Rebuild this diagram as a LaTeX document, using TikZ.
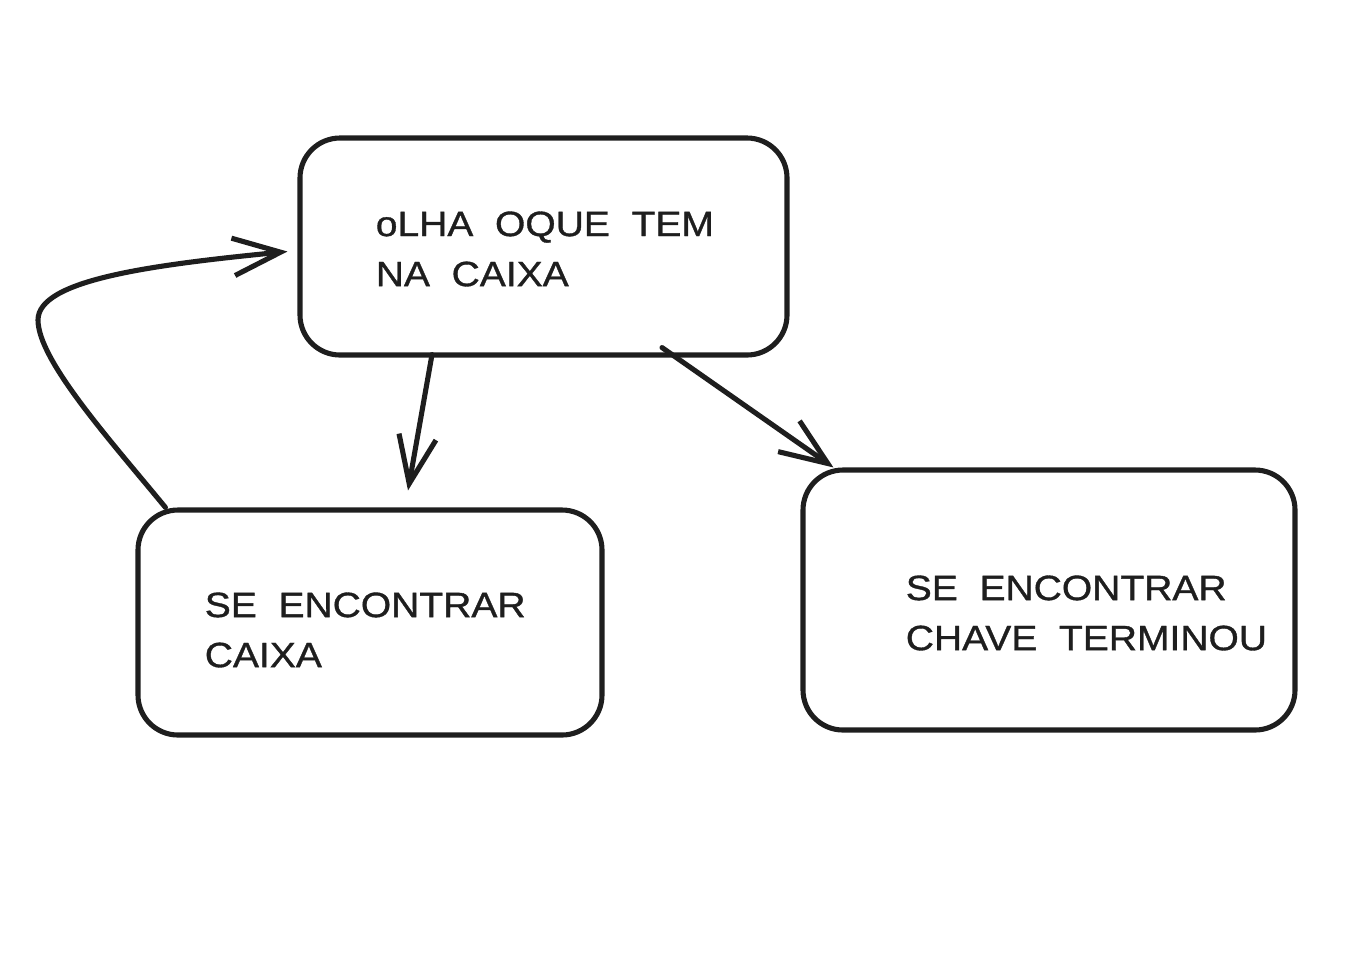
\documentclass[tikz,border=0pt]{standalone}
\usepackage{fontspec}
\newfontfamily\handfont[FakeStretch=1.11,WordSpace=2,FakeBold=1]{Liberation Sans}
\usetikzlibrary{arrows.meta}
\definecolor{inkblack}{HTML}{1E1E1E}
\begin{document}
\begin{tikzpicture}[
	statebox/.style={
		rectangle,
		rounded corners=0.8cm,
		draw=inkblack,
		line width=2.9pt
	},
	boxtext/.style={
		anchor=west,
		align=left,
		inner sep=0pt,
		text=inkblack,
		font=\handfont\fontsize{20}{28.5}\selectfont
	},
	flowarrow/.style={
		draw=inkblack,
		line width=2.9pt,
		line cap=round,
		-{Straight Barb[length=0.95cm,width=0.75cm]}
	}
]

\useasboundingbox (0,0) rectangle (27,-19.24);



% the three boxes
\node[statebox, minimum width=9.74cm, minimum height=4.34cm] (look) at (10.87,-4.93) {};
\node[statebox, minimum width=9.28cm, minimum height=4.5cm] (box) at (7.4,-12.45) {};
\node[statebox, minimum width=9.84cm, minimum height=5.2cm] (key) at (20.98,-12.0) {};



% texts, left aligned inside the boxes
\node[boxtext] (lookText) at ([xshift=1.56cm,yshift=-0.05cm]look.west) {oLHA OQUE TEM\\NA CAIXA};
\node[boxtext] (boxText) at ([xshift=1.38cm,yshift=-0.15cm]box.west) {SE ENCONTRAR\\CAIXA};
\node[boxtext] (keyText) at ([xshift=2.1cm,yshift=-0.26cm]key.west) {SE ENCONTRAR\\CHAVE TERMINOU};



% connectors
\draw[flowarrow] ([xshift=-2.23cm,yshift=0.06cm]look.south) -- ([xshift=0.76cm,yshift=0.34cm]box.north);
\draw[flowarrow] ([xshift=2.37cm,yshift=0.2cm]look.south) -- ([xshift=0.66cm]key.north west);
\draw[flowarrow] ([xshift=0.6cm]box.north west)
	.. controls (2.2,-8.8) and (0.76,-7.2) .. (0.76,-6.4)
	.. controls (0.76,-5.6) and (3.0,-5.3) .. ([xshift=-0.2cm,yshift=-0.1cm]look.west);



\end{tikzpicture}
\end{document}
